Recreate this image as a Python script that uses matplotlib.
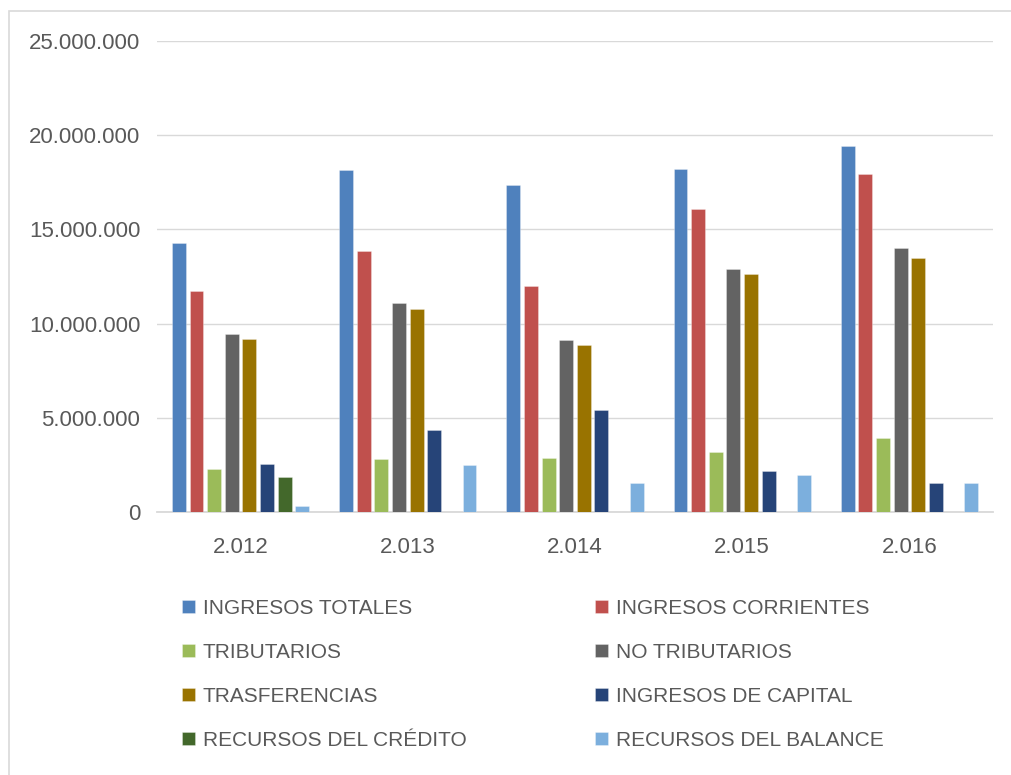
import matplotlib
matplotlib.use("Agg")
import matplotlib.pyplot as plt
import numpy as np
from matplotlib.patches import Rectangle
from matplotlib.ticker import FuncFormatter, MultipleLocator

years = ["2.012", "2.013", "2.014", "2.015", "2.016"]
series_names = [
    "INGRESOS TOTALES", "INGRESOS CORRIENTES", "TRIBUTARIOS", "NO TRIBUTARIOS",
    "TRASFERENCIAS", "INGRESOS DE CAPITAL", "RECURSOS DEL CRÉDITO", "RECURSOS DEL BALANCE",
]
ingresos_totales = [14270000, 18140000, 17350000, 18200000, 19420000]
ingresos_corrientes = [11720000, 13850000, 11990000, 16070000, 17930000]
tributarios = [2280000, 2790000, 2860000, 3200000, 3930000]
no_tributarios = [9440000, 11090000, 9120000, 12890000, 14000000]
trasferencias = [9180000, 10770000, 8860000, 12630000, 13470000]
ingresos_capital = [2560000, 4350000, 5410000, 2180000, 1560000]
recursos_credito = [1860000, 0, 0, 0, 0]
recursos_balance = [320000, 2490000, 1560000, 1950000, 1560000]

colors = ["#4F81BD", "#C0504D", "#9BBB59", "#636363",
          "#997300", "#264478", "#43682B", "#7CAFDD"]

values = [ingresos_totales, ingresos_corrientes, tributarios, no_tributarios,
          trasferencias, ingresos_capital, recursos_credito, recursos_balance]

fig = plt.figure(figsize=(10.11, 7.75), dpi=100)
ax = fig.add_axes([157 / 1011, 1 - 512 / 775, (993 - 157) / 1011, (512 - 41) / 775])

x = np.arange(len(years))
step = 0.1054
width = 0.083
handles = []
for i, (name, vals, c) in enumerate(zip(series_names, values, colors)):
    offs = (i - 3.5) * step
    b = ax.bar(x + offs, vals, width, color=c, label=name,
               edgecolor=(1, 1, 1, 0.35), linewidth=0.6, zorder=3)
    handles.append(b)

ax.set_xlim(-0.5, len(years) - 0.5)
ax.set_ylim(0, 25000000)
ax.yaxis.set_major_locator(MultipleLocator(5000000))


def fmt(v, pos):
    if v == 0:
        return "0"
    return f"{int(v):,}".replace(",", ".")


ax.yaxis.set_major_formatter(FuncFormatter(fmt))
ax.grid(axis="y", color="#D9D9D9", linewidth=1.0, zorder=0)
for s in ["top", "right", "left"]:
    ax.spines[s].set_visible(False)
ax.spines["bottom"].set_color("#D9D9D9")
ax.spines["bottom"].set_linewidth(1.3)
ax.set_xticks(x)
ax.set_xticklabels(years)
ax.tick_params(axis="both", length=0, labelsize=16, labelcolor="#595959")
ax.tick_params(axis="y", pad=12)
ax.tick_params(axis="x", pad=18)
for lab in ax.get_xticklabels() + ax.get_yticklabels():
    lab.set_family(["Liberation Sans", "DejaVu Sans"])

leg_font = {"family": ["Liberation Sans", "DejaVu Sans"], "size": 15}
common = dict(frameon=False, handlelength=0.62, handleheight=0.62,
              handletextpad=0.38, labelspacing=1.2, borderpad=0,
              borderaxespad=0, prop=leg_font, labelcolor="#595959")
leg1 = fig.legend([handles[i] for i in (0, 2, 4, 6)],
                  [series_names[i] for i in (0, 2, 4, 6)],
                  loc="upper left", bbox_to_anchor=(182 / 1011, 1 - 599 / 775),
                  **common)
leg2 = fig.legend([handles[i] for i in (1, 3, 5, 7)],
                  [series_names[i] for i in (1, 3, 5, 7)],
                  loc="upper left", bbox_to_anchor=(595 / 1011, 1 - 599 / 775),
                  **common)

fig.patches.append(Rectangle((9 / 1011, -0.1), 1.2, 1 - 11 / 775 + 0.1,
                             transform=fig.transFigure, fill=False,
                             edgecolor="#D9D9D9", linewidth=1.2))

fig.savefig("out.png", dpi=100)
